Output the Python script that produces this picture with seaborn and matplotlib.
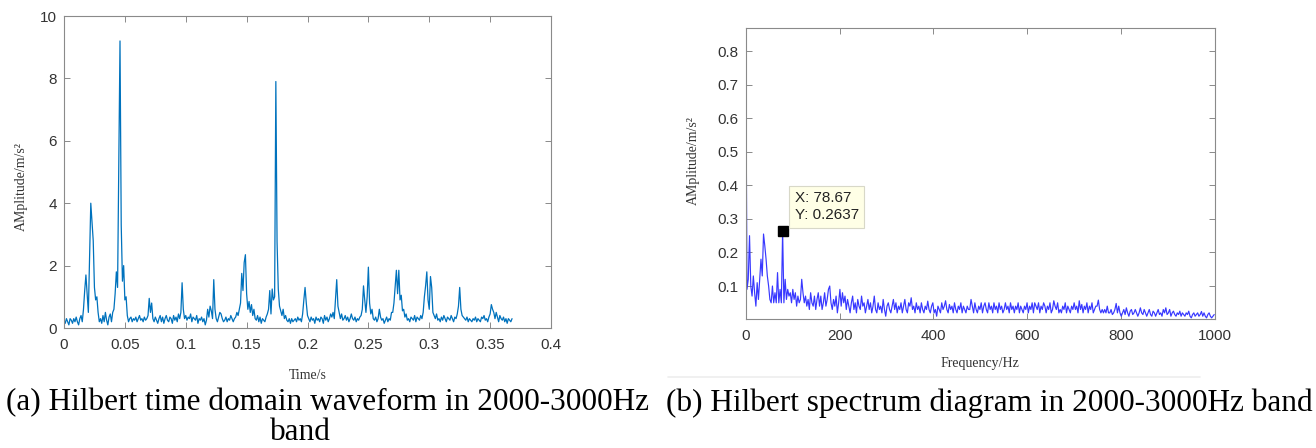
import numpy as np
import pandas as pd
import matplotlib
matplotlib.use("Agg")
import matplotlib.pyplot as plt
import seaborn as sns
from matplotlib.lines import Line2D

# ---- envelope signal (2000-3000 Hz band), sampled every 1 ms ----
time_step = 0.001
amp_time = [
    0.25, 0.15, 0.3, 0.2, 0.1, 0.3, 0.25, 0.15, 0.3, 0.2,
    0.35, 0.2, 0.1, 0.3, 0.4, 0.2, 0.6, 1.2, 1.7, 1.1,
    0.5, 2.2, 4.0, 3.4, 2.8, 1.3, 0.9, 1.0, 0.5, 0.2,
    0.3, 0.15, 0.4, 0.2, 0.5, 0.25, 0.1, 0.35, 0.45, 0.2,
    0.5, 0.6, 1.1, 1.8, 1.3, 5.2, 9.2, 3.3, 1.5, 2.0,
    0.9, 1.0, 0.4, 0.2, 0.3, 0.35, 0.2, 0.3, 0.25, 0.35,
    0.2, 0.3, 0.4, 0.25, 0.3, 0.2, 0.35, 0.25, 0.3, 0.4,
    0.95, 0.5, 0.8, 0.3, 0.2, 0.35, 0.25, 0.15, 0.3, 0.4,
    0.2, 0.35, 0.15, 0.3, 0.4, 0.25, 0.2, 0.35, 0.3, 0.15,
    0.4, 0.25, 0.35, 0.2, 0.45, 0.3, 0.5, 1.45, 0.6, 0.3,
    0.4, 0.25, 0.35, 0.3, 0.45, 0.2, 0.35, 0.3, 0.25, 0.4,
    0.15, 0.3, 0.25, 0.35, 0.2, 0.3, 0.1, 0.25, 0.6, 0.35,
    0.7, 0.55, 0.3, 1.55, 0.6, 0.3, 0.2, 0.35, 0.5, 0.45,
    0.3, 0.2, 0.25, 0.35, 0.2, 0.3, 0.25, 0.4, 0.3, 0.2,
    0.3, 0.35, 0.5, 0.4, 0.6, 0.8, 1.75, 1.2, 2.1, 2.35,
    1.1, 0.6, 0.85, 0.5, 0.75, 0.4, 0.6, 0.3, 0.25, 0.4,
    0.2, 0.35, 0.15, 0.3, 0.25, 0.2, 0.35, 0.45, 0.6, 1.2,
    0.45, 1.25, 0.9, 1.0, 7.9, 2.75, 1.25, 0.7, 0.55, 0.4,
    0.6, 0.3, 0.4, 0.25, 0.2, 0.3, 0.15, 0.3, 0.2, 0.25,
    0.3, 0.2, 0.35, 0.25, 0.3, 0.2, 0.45, 0.9, 1.3, 0.8,
    0.4, 0.3, 0.2, 0.35, 0.25, 0.3, 0.15, 0.35, 0.25, 0.3,
    0.2, 0.35, 0.3, 0.15, 0.4, 0.25, 0.35, 0.2, 0.3, 0.45,
    0.35, 0.5, 0.3, 0.9, 1.55, 0.7, 0.5, 0.3, 0.45, 0.25,
    0.3, 0.4, 0.25, 0.35, 0.2, 0.3, 0.45, 0.3, 0.25, 0.35,
    0.2, 0.3, 0.25, 0.35, 0.4, 0.6, 1.35, 0.9, 0.5, 1.0,
    1.95, 0.8, 0.45, 0.6, 0.3, 0.25, 0.35, 0.2, 0.3, 0.6,
    0.35, 0.25, 0.3, 0.15, 0.25, 0.35, 0.2, 0.3, 0.25, 0.5,
    0.5, 0.8, 1.35, 1.85, 1.1, 1.85, 0.9, 1.05, 0.55, 0.6,
    0.35, 0.45, 0.25, 0.3, 0.2, 0.35, 0.3, 0.25, 0.4, 0.2,
    0.35, 0.3, 0.25, 0.4, 0.3, 0.5, 1.0, 1.35, 1.8, 0.9,
    0.6, 1.65, 1.3, 0.5, 0.4, 0.3, 0.45, 0.25, 0.3, 0.2,
    0.35, 0.25, 0.4, 0.3, 0.2, 0.35, 0.3, 0.25, 0.4, 0.3,
    0.2, 0.35, 0.3, 0.45, 0.7, 1.3, 0.6, 0.4, 0.35, 0.3,
    0.25, 0.35, 0.2, 0.3, 0.25, 0.2, 0.3, 0.25, 0.35, 0.2,
    0.3, 0.25, 0.2, 0.35, 0.3, 0.4, 0.25, 0.3, 0.2, 0.35,
    0.45, 0.75, 0.6, 0.5, 0.3, 0.5, 0.35, 0.2, 0.4, 0.3,
    0.25, 0.35, 0.2, 0.3, 0.15, 0.3, 0.25, 0.2, 0.3,
]

# ---- envelope spectrum, bin width chosen so bin 29 sits at the marked peak ----
peak_freq = 78.67
peak_amp = 0.2637
freq_step = peak_freq / 29
amp_spec = [
    0.869, 0.09, 0.12, 0.25, 0.10, 0.07, 0.13, 0.08, 0.04, 0.11,
    0.06, 0.12, 0.18, 0.13, 0.255, 0.22, 0.18, 0.13, 0.10, 0.06,
    0.05, 0.10, 0.05, 0.08, 0.05, 0.14, 0.05, 0.09, 0.05, 0.2637,
    0.05, 0.12, 0.06, 0.09, 0.07, 0.08,
    0.05, 0.09, 0.06, 0.08, 0.04, 0.07, 0.05, 0.06, 0.12, 0.08,
    0.05, 0.07, 0.04, 0.06, 0.03, 0.08, 0.05, 0.04, 0.07, 0.03,
    0.06, 0.08, 0.04, 0.07, 0.03, 0.05, 0.08, 0.04, 0.06, 0.09,
    0.10, 0.05, 0.03, 0.06, 0.04, 0.07, 0.02, 0.05, 0.09, 0.04,
    0.08, 0.05, 0.07, 0.03, 0.06, 0.04, 0.02, 0.05, 0.07, 0.03,
    0.05, 0.02, 0.06, 0.04, 0.03, 0.07, 0.04, 0.05, 0.02, 0.04,
    0.06, 0.03, 0.05, 0.02, 0.04, 0.07, 0.03, 0.02, 0.05, 0.03,
    0.04, 0.02, 0.06, 0.03, 0.01, 0.04, 0.05, 0.03, 0.02, 0.04,
    0.06, 0.03, 0.05, 0.02, 0.04, 0.03, 0.05, 0.02, 0.04, 0.06,
    0.03, 0.02, 0.05, 0.04, 0.065, 0.03, 0.04, 0.02, 0.05, 0.03,
    0.04, 0.02, 0.05, 0.03, 0.02, 0.04, 0.03, 0.055, 0.03, 0.02,
    0.04, 0.05, 0.02, 0.03, 0.01, 0.04, 0.03, 0.02, 0.05, 0.03,
    0.04, 0.056, 0.03, 0.02, 0.045, 0.03, 0.04, 0.02, 0.05, 0.03,
    0.02, 0.04, 0.03, 0.05, 0.02, 0.04, 0.03, 0.02, 0.04, 0.03,
    0.03, 0.06, 0.04, 0.02, 0.05, 0.03, 0.02, 0.04, 0.03, 0.05,
    0.02, 0.04, 0.05, 0.03, 0.02, 0.05, 0.03, 0.04, 0.02, 0.05,
    0.03, 0.04, 0.02, 0.05, 0.03, 0.04, 0.02, 0.03, 0.05, 0.03,
    0.04, 0.02, 0.05, 0.03, 0.04, 0.02, 0.04, 0.03, 0.05, 0.02,
    0.04, 0.03, 0.02, 0.04, 0.03, 0.05, 0.02, 0.04, 0.03, 0.05,
    0.02, 0.05, 0.04, 0.03, 0.05, 0.02, 0.04, 0.03, 0.05, 0.04,
    0.02, 0.04, 0.03, 0.05, 0.02, 0.03, 0.056, 0.04, 0.03, 0.05,
    0.02, 0.03, 0.02, 0.04, 0.03, 0.05, 0.02, 0.04, 0.03, 0.02,
    0.04, 0.03, 0.05, 0.03, 0.04, 0.02, 0.056, 0.03, 0.045, 0.02,
    0.04, 0.03, 0.05, 0.02, 0.04, 0.03, 0.05, 0.02, 0.03, 0.04,
    0.04, 0.058, 0.03, 0.02, 0.03, 0.02, 0.03, 0.02, 0.04, 0.02,
    0.02, 0.03, 0.015, 0.02, 0.03, 0.048, 0.02, 0.04, 0.02, 0.01,
    0.02, 0.03, 0.015, 0.035, 0.02, 0.01, 0.025, 0.03, 0.015, 0.02,
    0.03, 0.02, 0.01, 0.02, 0.035, 0.02, 0.015, 0.03, 0.02, 0.01,
    0.02, 0.03, 0.015, 0.01, 0.025, 0.02, 0.01, 0.02, 0.03, 0.015,
    0.02, 0.01, 0.03, 0.02, 0.035, 0.015, 0.02, 0.03, 0.01, 0.02,
    0.025, 0.015, 0.01, 0.02, 0.015, 0.025, 0.01, 0.02, 0.015, 0.01,
    0.02, 0.015, 0.025, 0.01, 0.005, 0.015, 0.02, 0.01, 0.015, 0.02,
    0.01, 0.015, 0.024, 0.01, 0.02, 0.01, 0.005, 0.015, 0.02, 0.01,
    0.005, 0.01, 0.015,
]

# ---- axis ticks and text ----
time_ticks = [0, 0.05, 0.1, 0.15, 0.2, 0.25, 0.3, 0.35, 0.4]
time_tick_labels = ["0", "0.05", "0.1", "0.15", "0.2", "0.25", "0.3", "0.35", "0.4"]
amp_ticks_a = [0, 2, 4, 6, 8, 10]
freq_ticks = [0, 200, 400, 600, 800, 1000]
amp_ticks_b = [0.1, 0.2, 0.3, 0.4, 0.5, 0.6, 0.7, 0.8]
amp_tick_labels_b = ["0.1", "0.2", "0.3", "0.4", "0.5", "0.6", "0.7", "0.8"]
caption_a = ["(a) Hilbert time domain waveform in 2000-3000Hz", "band"]
caption_b = "(b) Hilbert spectrum diagram in 2000-3000Hz band"

sns.set_theme(style="ticks")
plt.rcParams["font.family"] = ["Liberation Sans", "DejaVu Sans"]
SERIF = ["Liberation Serif", "DejaVu Serif"]

W, H = 1316, 448
fig = plt.figure(figsize=(W / 100, H / 100), dpi=100)
fig.patch.set_facecolor("white")


def px_box(left, top, right, bottom):
    return [left / W, 1 - bottom / H, (right - left) / W, (bottom - top) / H]


ax1 = fig.add_axes(px_box(64, 16, 551, 328))
ax2 = fig.add_axes(px_box(745.7, 28, 1215, 319))

df_time = pd.DataFrame({
    "t": np.arange(len(amp_time)) * time_step,
    "amp": amp_time,
})
df_spec = pd.DataFrame({
    "f": np.arange(len(amp_spec)) * freq_step,
    "amp": amp_spec,
})

sns.lineplot(data=df_time, x="t", y="amp", ax=ax1, color="#0072BD",
             linewidth=0.9, estimator=None, sort=False)
sns.lineplot(data=df_spec, x="f", y="amp", ax=ax2, color="#3838ff",
             linewidth=0.85, estimator=None, sort=False)

spine_col = "#8a8a8a"
for ax in (ax1, ax2):
    for sp in ax.spines.values():
        sp.set_visible(True)
        sp.set_color(spine_col)
        sp.set_linewidth(0.8)
    ax.tick_params(direction="in", length=4, width=0.7, color=spine_col,
                   top=True, right=True, labelsize=11, labelcolor="#333333")
    ax.tick_params(axis="x", pad=7)
    ax.tick_params(axis="y", pad=5)
    ax.set_facecolor("white")

ax1.set_xlim(0, 0.4)
ax1.set_ylim(0, 10)
ax1.set_xticks(time_ticks)
ax1.set_xticklabels(time_tick_labels)
ax1.set_yticks(amp_ticks_a)
ax1.set_xlabel("Time/s", fontfamily=SERIF, fontsize=10, color="#333333")
ax1.set_ylabel("AMplitude/m/s²", fontfamily=SERIF, fontsize=10, color="#333333")
ax1.xaxis.set_label_coords(0.5, -0.13)
ax1.yaxis.set_label_coords(-0.074, 0.452)

ax2.set_xlim(0, 1000)
ax2.set_ylim(0.0017, 0.869)
ax2.set_xticks(freq_ticks)
ax2.set_yticks(amp_ticks_b)
ax2.set_yticklabels(amp_tick_labels_b)
ax2.set_xlabel("Frequency/Hz", fontfamily=SERIF, fontsize=10, color="#333333")
ax2.set_ylabel("AMplitude/m/s²", fontfamily=SERIF, fontsize=10, color="#333333")
ax2.xaxis.set_label_coords(0.5, -0.13)
ax2.yaxis.set_label_coords(-0.097, 0.543)

# data tip on the marked spectral line
ax2.plot([peak_freq], [peak_amp], marker="s", color="black", markersize=7,
         markeredgecolor="black", zorder=5)
ax2.text(104, 0.29, f"X: {peak_freq:.2f}\nY: {peak_amp:.4f}", fontsize=11,
         color="#222222", ha="left", va="bottom", linespacing=1.3,
         bbox=dict(boxstyle="square,pad=0.35", fc="#FFFFE6", ec="#d8d8c8", lw=0.8),
         zorder=6)

# faint rule under the right panel
fig.add_artist(Line2D([668 / W, 1200 / W], [1 - 377 / H, 1 - 377 / H],
                      color="#eeeeee", linewidth=1.2))

# captions
fig.text(328 / W, 1 - 403 / H, caption_a[0], fontfamily=SERIF, fontsize=22.5,
         ha="center", va="center", color="black")
fig.text(300 / W, 1 - 432 / H, caption_a[1], fontfamily=SERIF, fontsize=22.5,
         ha="center", va="center", color="black")
fig.text(989 / W, 1 - 403 / H, caption_b, fontfamily=SERIF, fontsize=22.5,
         ha="center", va="center", color="black")

fig.savefig("out.png", dpi=100, facecolor="white")
